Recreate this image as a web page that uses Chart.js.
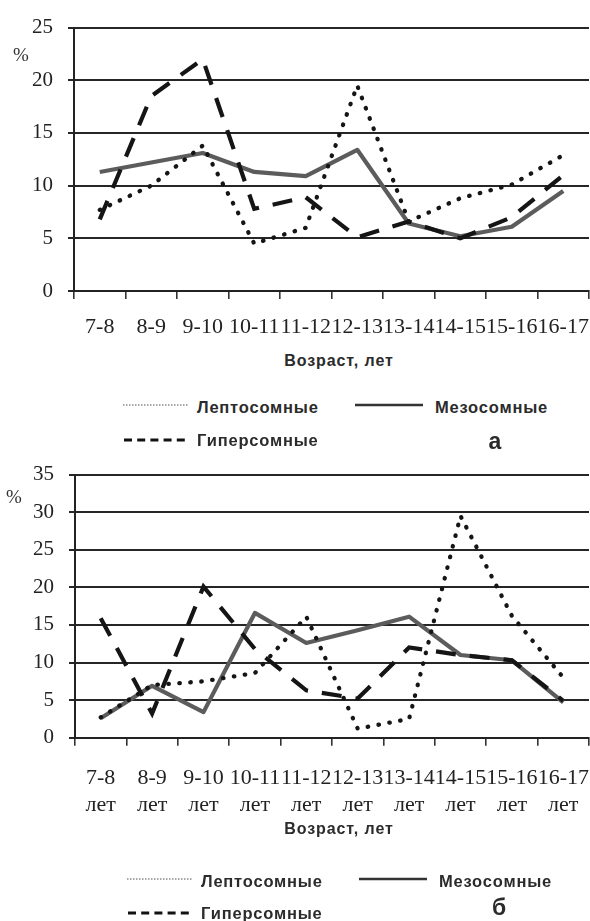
<!DOCTYPE html>
<html lang="ru">
<head>
<meta charset="utf-8">
<title>Соматотипы по возрасту</title>
<script src="https://cdn.jsdelivr.net/npm/chart.js@4.4.1/dist/chart.umd.min.js"></script>
<style>
  html, body { margin: 0; padding: 0; background: #fff; }
  #page { position: relative; width: 590px; height: 921px; overflow: hidden; background: #fff; }
  canvas { position: absolute; left: 0; }
  .txt { position: absolute; line-height: 1; white-space: nowrap; transform: translateY(-50%); color: #2b2b2b; }
  .sans { font-family: "Liberation Sans", Arial, sans-serif; font-weight: bold; }
  .serif { font-family: "Liberation Serif", "Times New Roman", serif; }
  .leg { font-size: 16.5px; letter-spacing: 0.8px; }
  .ttl { font-size: 16px; letter-spacing: 0.9px; }
  svg.sample { position: absolute; overflow: visible; }
</style>
</head>
<body>
<div id="page">
  <canvas id="chartA" width="590" height="345" style="top:0px"></canvas>
  <canvas id="chartB" width="590" height="375" style="top:447px"></canvas>
</div>
<script>
// Age groups (x axis)
const categories = ['7-8', '8-9', '9-10', '10-11', '11-12', '12-13', '13-14', '14-15', '15-16', '16-17'];
const ageUnit = 'лет';

// Series names
const seriesNames = ['Лептосомные', 'Мезосомные', 'Гиперсомные'];
const axisTitle = 'Возраст, лет';
const unitLabel = '%';

// Panel "а"
const leptoA = [7.7, 10.0, 13.8, 4.5, 6.0, 19.5, 6.6, 8.8, 10.1, 12.9];
const mezoA  = [11.3, 12.2, 13.1, 11.3, 10.9, 13.4, 6.4, 5.2, 6.1, 9.5];
const hyperA = [6.8, 18.5, 22.0, 7.8, 8.9, 5.1, 6.6, 5.0, 7.0, 11.0];
const yTicksA = [0, 5, 10, 15, 20, 25];

// Panel "б"
const leptoB = [2.7, 7.0, 7.5, 8.6, 16.1, 1.2, 2.5, 29.5, 16.2, 8.0];
const mezoB  = [2.6, 6.9, 3.4, 16.6, 12.6, 14.3, 16.1, 11.0, 10.3, 4.7];
const hyperB = [15.9, 3.2, 20.1, 11.8, 6.3, 5.2, 12.0, 11.0, 10.3, 4.9];
const yTicksB = [0, 5, 10, 15, 20, 25, 30, 35];

const page = document.getElementById('page');
const SERIF = "'Liberation Serif', 'Times New Roman', serif";
const X_FONT = { family: SERIF, size: 22, lineHeight: 1.22 };
const Y_FONT = { family: SERIF, size: 21 };

function addText(text, cls, x, y, extra) {
  const d = document.createElement('div');
  d.className = 'txt ' + cls;
  d.textContent = text;
  d.style.left = x + 'px';
  d.style.top = y + 'px';
  if (extra) Object.assign(d.style, extra);
  page.appendChild(d);
  return d;
}

function addSample(x, y, w, stroke, width, dash, cap) {
  const ns = 'http://www.w3.org/2000/svg';
  const svg = document.createElementNS(ns, 'svg');
  svg.setAttribute('class', 'sample');
  svg.setAttribute('width', w);
  svg.setAttribute('height', 8);
  svg.style.left = x + 'px';
  svg.style.top = (y - 4) + 'px';
  const ln = document.createElementNS(ns, 'line');
  ln.setAttribute('x1', 0); ln.setAttribute('y1', 4);
  ln.setAttribute('x2', w); ln.setAttribute('y2', 4);
  ln.setAttribute('stroke', stroke);
  ln.setAttribute('stroke-width', width);
  if (dash) ln.setAttribute('stroke-dasharray', dash);
  if (cap) ln.setAttribute('stroke-linecap', cap);
  svg.appendChild(ln);
  page.appendChild(svg);
}

function makeChart(id, labels, lepto, mezo, hyper, yTicks, layout) {
  const step = yTicks[1] - yTicks[0];
  return new Chart(document.getElementById(id), {
    type: 'line',
    data: {
      labels: labels,
      datasets: [
        {
          label: seriesNames[0], data: lepto,
          borderColor: '#151515', borderWidth: 4.3,
          borderDash: [0.5, 10.5], borderCapStyle: 'round',
          pointRadius: 0, tension: 0, order: 2
        },
        {
          label: seriesNames[1], data: mezo,
          borderColor: '#5c5c5c', borderWidth: 4.2,
          borderJoinStyle: 'round',
          pointRadius: 0, tension: 0, order: 3
        },
        {
          label: seriesNames[2], data: hyper,
          borderColor: '#151515', borderWidth: 4.2,
          borderDash: [20, 14], borderCapStyle: 'butt',
          pointRadius: 0, tension: 0, order: 1
        }
      ]
    },
    options: {
      responsive: false,
      maintainAspectRatio: false,
      animation: false,
      events: [],
      layout: { padding: { top: layout.top, left: 0, right: 1, bottom: 0 } },
      plugins: { legend: { display: false }, tooltip: { enabled: false }, title: { display: false } },
      scales: {
        x: {
          type: 'category',
          offset: true,
          grid: { display: true, drawOnChartArea: false, drawTicks: true, offset: true,
                  tickLength: 8, color: '#333', lineWidth: 1.6 },
          border: { display: true, color: '#222', width: 2 },
          ticks: { color: '#222', font: X_FONT, padding: layout.xPad, maxRotation: 0, autoSkip: false },
          afterFit: (axis) => {
            axis.height = layout.xHeight;
            // the labels fit inside their category slots, no extra side room needed
            axis.paddingLeft = 0;
            axis.paddingRight = 0;
          }
        },
        y: {
          min: yTicks[0], max: yTicks[yTicks.length - 1],
          grid: { color: '#262626', lineWidth: 2, tickLength: 6, drawTicks: true },
          border: { display: true, color: '#222', width: 2 },
          ticks: { stepSize: step, color: '#222', font: Y_FONT, padding: 15 },
          afterFit: (axis) => { axis.width = layout.yWidth; }
        }
      }
    }
  });
}

// Panel "а": single-line age labels
makeChart('chartA', categories, leptoA, mezoA, hyperA, yTicksA,
  { top: 24, yWidth: 74, xHeight: 345 - 291, xPad: 15 });

// Panel "б": age labels with the unit on a second line
const labelsB = categories.map(c => [c, ageUnit]);
makeChart('chartB', labelsB, leptoB, mezoB, hyperB, yTicksB,
  { top: 24.7, yWidth: 75, xHeight: 375 - 290.7, xPad: 19 });

// Unit signs on the value axes
addText(unitLabel, 'serif', 13, 54, { fontSize: '19px', color: '#333' });
addText(unitLabel, 'serif', 6, 496, { fontSize: '19px', color: '#333' });

// Axis titles
addText(axisTitle, 'sans ttl', 339, 361, { transform: 'translate(-50%,-50%)' });
addText(axisTitle, 'sans ttl', 339, 829, { transform: 'translate(-50%,-50%)' });

// Legends
function legend(dx, y1, y2, letter, letterY) {
  addSample(123 + dx, y1, 65, '#8a8a8a', 1.6, '1.5 1.5');
  addText(seriesNames[0], 'sans leg', 197 + dx, y1 + 2);
  addSample(355 + dx, y1, 68, '#333', 2.6);
  addText(seriesNames[1], 'sans leg', 435 + dx, y1 + 2);
  addSample(124 + dx, y2, 64, '#111', 3.2, '8 5.2');
  addText(seriesNames[2], 'sans leg', 197 + dx, y2);
  addText(letter, 'sans', 495 + dx, letterY, { fontSize: '23px', transform: 'translate(-50%,-50%)' });
}
legend(0, 405, 440, 'а', 441);
legend(4, 879, 913, 'б', 907);
</script>
</body>
</html>
